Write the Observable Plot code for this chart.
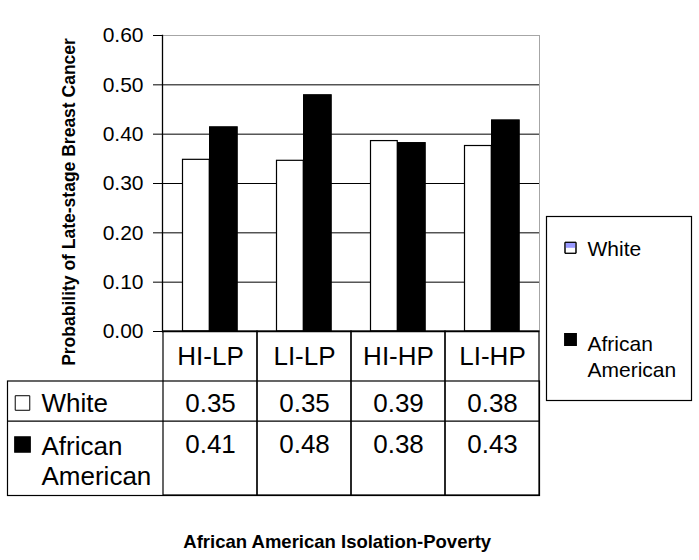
<!DOCTYPE html>
<html>
<head>
<meta charset="utf-8">
<script src="https://cdn.jsdelivr.net/npm/d3@7"></script>
<script src="https://cdn.jsdelivr.net/npm/@observablehq/plot@0.6"></script>
<style>
  html, body { margin: 0; padding: 0; background: #fff; }
  #chart { width: 699px; height: 560px; }
</style>
</head>
<body>
<div id="chart"></div>
<script>
// ---- data ----
const categories = ["HI-LP", "LI-LP", "HI-HP", "LI-HP"];
const seriesNames = ["White", "African American"];
const whiteValues = [0.348, 0.346, 0.386, 0.376];
const africanAmericanValues = [0.414, 0.479, 0.382, 0.428];
const yTicks = [0, 0.1, 0.2, 0.3, 0.4, 0.5, 0.6];
const yTitle = "Probability of Late-stage Breast Cancer";
const xTitle = "African American Isolation-Poverty";

const whiteData = categories.map((c, i) => ({category: c, series: seriesNames[0], value: whiteValues[i]}));
const aaData = categories.map((c, i) => ({category: c, series: seriesNames[1], value: africanAmericanValues[i]}));
const fmt = d3.format(".2f");

const FONT = "'Liberation Sans', Arial, Helvetica, sans-serif";

// custom symbol: top half of a square (legend key pattern)
const halfTop = {
  draw(context, size) {
    const w = Math.sqrt(size);
    context.moveTo(-w / 2, -w / 2);
    context.lineTo(w / 2, -w / 2);
    context.lineTo(w / 2, 0);
    context.lineTo(-w / 2, 0);
    context.closePath();
  }
};

const chart = Plot.plot({
  width: 699,
  height: 560,
  marginLeft: 162,
  marginRight: 160,
  marginTop: 35,
  marginBottom: 229,
  style: {fontFamily: FONT, background: "white", color: "black", overflow: "visible"},
  x: {type: "band", domain: categories, padding: 0, axis: null},
  y: {domain: [0, 0.6], axis: null},
  marks: [
    // plot area border (light grey top & right)
    Plot.frame({stroke: "#a6a6a6"}),
    // gridlines
    Plot.ruleY(yTicks.filter(d => d > 0 && d < 0.6), {stroke: "black", strokeWidth: 1}),
    // bars
    Plot.barY(whiteData, {x: "category", y: "value", fill: "white", stroke: "black", strokeWidth: 1.2, insetLeft: 19.5, insetRight: 47.75}),
    Plot.barY(aaData, {x: "category", y: "value", fill: "black", stroke: "black", strokeWidth: 1, insetLeft: 46.5, insetRight: 19.75}),
    // y axis
    Plot.axisY({ticks: yTicks, tickFormat: fmt, tickSize: 9, tickPadding: 10, fontSize: 21, label: null, stroke: "black", color: "black"}),
    Plot.frame({anchor: "left", stroke: "black", strokeWidth: 1.3}),
    Plot.ruleY([0], {stroke: "black", strokeWidth: 1.3}),
    // data table: category cells
    Plot.barY(categories, {x: d => d, y1: 0, y2: 0, fill: "none", stroke: "black", strokeWidth: 1.2, insetBottom: -164}),
    // data table: rows border
    Plot.frame({insetLeft: -155, insetTop: 345.5, insetBottom: -164, stroke: "black", strokeWidth: 1.2}),
    Plot.ruleY([0], {dy: 89.7, insetLeft: -155, stroke: "black", strokeWidth: 1.2}),
    // category labels
    Plot.text(categories, {x: d => d, y: 0, dy: 25, text: d => d, fontSize: 26, fill: "black", lineAnchor: "middle"}),
    // table values
    Plot.text(whiteData, {x: "category", y: 0, dy: 71.7, text: d => fmt(d.value), fontSize: 26, fill: "black", lineAnchor: "middle"}),
    Plot.text(aaData, {x: "category", y: 0, dy: 112.7, text: d => fmt(d.value), fontSize: 26, fill: "black", lineAnchor: "middle"}),
    // table row labels
    Plot.dot([seriesNames[0]], {frameAnchor: "bottom-left", dx: -140, dy: 71.5, symbol: "square", r: 8.2, fill: "white", stroke: "black", strokeWidth: 1}),
    Plot.dot([seriesNames[1]], {frameAnchor: "bottom-left", dx: -140, dy: 113, symbol: "square", r: 8.6, fill: "black", stroke: "black"}),
    Plot.text([seriesNames[0]], {frameAnchor: "bottom-left", dx: -121, dy: 72.4, textAnchor: "start", lineAnchor: "middle", fontSize: 26, fill: "black"}),
    Plot.text(["African\nAmerican"], {frameAnchor: "bottom-left", dx: -121, dy: 102.5, lineAnchor: "top", lineHeight: 1.154, textAnchor: "start", fontSize: 26, fill: "black"}),
    // axis titles
    Plot.text([yTitle], {frameAnchor: "left", rotate: -90, dx: -93.6, dy: 18.5, textAnchor: "middle", lineAnchor: "middle", fontSize: 17.5, fontWeight: "bold", fill: "black"}),
    Plot.text([xTitle], {frameAnchor: "bottom", dx: -13.8, dy: 210.5, textAnchor: "middle", lineAnchor: "middle", fontSize: 18.5, fontWeight: "bold", fill: "black"}),
    // legend box
    Plot.frame({insetLeft: 384, insetRight: -152, insetTop: 181, insetBottom: -69, stroke: "black", strokeWidth: 1.2}),
    Plot.dot([seriesNames[0]], {frameAnchor: "top-right", dx: 31, dy: 212.3, symbol: "square", r: 6.2, fill: "white", stroke: "black", strokeWidth: 1}),
    Plot.dot([seriesNames[0]], {frameAnchor: "top-right", dx: 31, dy: 212.3, symbol: halfTop, r: 5.6, fill: "#9999ff"}),
    Plot.dot([seriesNames[0]], {frameAnchor: "top-right", dx: 31, dy: 212.3, symbol: "square", r: 6.2, fill: "none", stroke: "black", strokeWidth: 1}),
    Plot.text([seriesNames[0]], {frameAnchor: "top-right", dx: 48, dy: 213.6, textAnchor: "start", lineAnchor: "middle", fontSize: 21, fill: "black"}),
    Plot.dot([seriesNames[1]], {frameAnchor: "top-right", dx: 31, dy: 304, symbol: "square", r: 6.4, fill: "black", stroke: "black"}),
    Plot.text(["African\nAmerican"], {frameAnchor: "top-right", dx: 48, dy: 297, lineAnchor: "top", lineHeight: 1.25, textAnchor: "start", fontSize: 21, fill: "black"})
  ]
});

document.getElementById("chart").appendChild(chart);
</script>
</body>
</html>
